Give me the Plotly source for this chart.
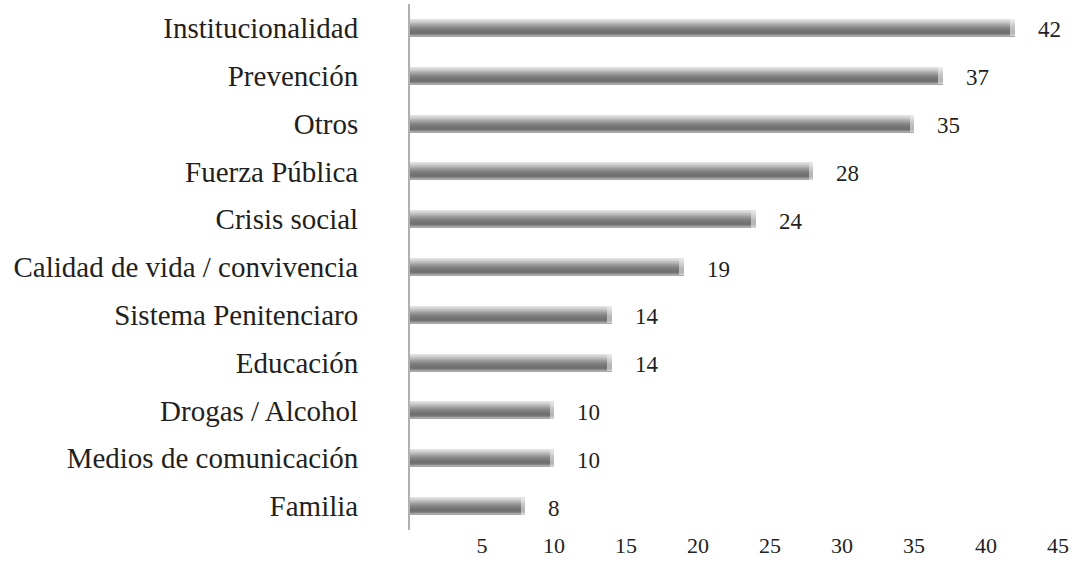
import plotly.graph_objects as go

categories = ["Familia", "Medios de comunicación", "Drogas / Alcohol", "Educación",
              "Sistema Penitenciaro", "Calidad de vida / convivencia", "Crisis social",
              "Fuerza Pública", "Otros", "Prevención", "Institucionalidad"]
values = [8, 10, 10, 14, 14, 19, 24, 28, 35, 37, 42]
x_ticks = [5, 10, 15, 20, 25, 30, 35, 40, 45]

# vertical gradient strips for the bars, top -> bottom
strip_colors = ["#e2e2e2", "#dadada", "#d0d0d0", "#c4c4c4", "#b8b8b8", "#ababab",
                "#9f9f9f", "#949494", "#8a8a8a", "#828282", "#7b7b7b", "#767676",
                "#727272", "#707070", "#747474", "#848484", "#a8a8a8"]

ROW_PX = 48.0
strip = 1.0 / ROW_PX
n = len(strip_colors)
top_off = n / 2 * strip

fig = go.Figure()
for i, col in enumerate(strip_colors):
    off = top_off - (i + 1) * strip
    fig.add_trace(go.Bar(
        y=list(range(len(categories))), x=values, orientation="h",
        width=strip * 1.3, offset=off, base=0,
        marker=dict(color=col, line=dict(width=0)),
        showlegend=False, hoverinfo="skip"))

# light end cap on the right side of each bar
fig.add_trace(go.Bar(
    y=list(range(len(categories))), x=[0.3] * len(values), base=[v - 0.3 for v in values],
    orientation="h", width=n * strip, offset=-top_off,
    marker=dict(color="rgba(240,240,240,0.55)", line=dict(width=0)),
    showlegend=False, hoverinfo="skip"))

for i, v in enumerate(values):
    fig.add_annotation(x=v, y=i, text=str(v), showarrow=False, xanchor="left",
                       yanchor="middle", xshift=21, yshift=-2,
                       font=dict(family="Liberation Serif", size=23, color="#231f20"))

fig.update_layout(
    width=1073, height=562,
    margin=dict(l=410, r=11, t=4, b=30),
    paper_bgcolor="white", plot_bgcolor="white",
    barmode="overlay", bargap=0,
    font=dict(family="Liberation Serif", color="#231f20"),
    xaxis=dict(range=[0, 45], tickvals=x_ticks, ticktext=[str(t) for t in x_ticks],
               showgrid=False, zeroline=False, showline=False, ticks="",
               tickfont=dict(size=22, family="Liberation Serif", color="#231f20")),
    yaxis=dict(tickvals=list(range(len(categories))), ticktext=categories,
               range=[-0.5, len(categories) - 0.5],
               showgrid=False, zeroline=False, showline=True, linecolor="#b0b0b0",
               linewidth=2, ticks="outside", ticklen=44, tickcolor="rgba(0,0,0,0)",
               tickfont=dict(size=29, family="Liberation Serif", color="#231f20")),
)

fig.write_html("out.html", config={"displayModeBar": False})

# remove the default page margin so the figure sits at the window's corner
with open("out.html", "r", encoding="utf-8") as f:
    html = f.read()
html = html.replace("<body>", '<body style="margin:0;padding:0;">', 1)
with open("out.html", "w", encoding="utf-8") as f:
    f.write(html)
